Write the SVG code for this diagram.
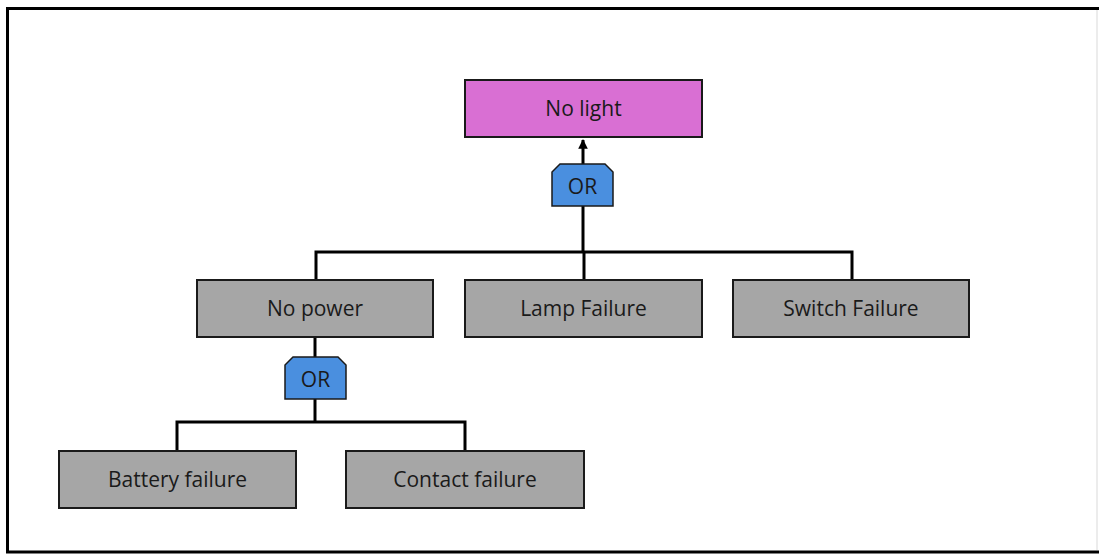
<svg xmlns="http://www.w3.org/2000/svg" width="1099" height="554" viewBox="0 0 1099 554">
  <style>
    .box { stroke: #1a1a1a; stroke-width: 2; }
    .evt { fill: #a6a6a6; }
    .top { fill: #d96fd3; }
    .gate { fill: #4a8fdf; stroke: #1a1a1a; stroke-width: 1.5; }
    .lbl { font-family: "Open Sans", "Liberation Sans", sans-serif; font-size: 21px; fill: #1a1a1a; text-anchor: middle; dominant-baseline: central; }
    .glbl { font-family: "Open Sans", "Liberation Sans", sans-serif; font-size: 21px; fill: #1a1a1a; text-anchor: middle; dominant-baseline: central; }
    .wire { fill: none; stroke: #000; stroke-width: 3; }
  </style>
  <defs>
    <marker id="arrow" viewBox="0 0 10 10" refX="9" refY="5" markerWidth="3.2" markerHeight="3.2" orient="auto">
      <path d="M0,0 L10,5 L0,10 z" fill="#000"/>
    </marker>
  </defs>
  <rect width="1099" height="554" fill="#ffffff"/>
  <g id="frame">
    <polyline points="1099,8.5 7.5,8.5 7.5,552 1099,552" fill="none" stroke="#000" stroke-width="3"/>
    <line x1="1097" y1="10" x2="1097" y2="550" stroke="#e6e6e6" stroke-width="1.5"/>
  </g>
  <g id="connectors">
    <line class="wire" x1="583" y1="164" x2="583" y2="140" marker-end="url(#arrow)"/>
    <polyline class="wire" points="583,206 583,252"/>
    <polyline class="wire" points="316,280 316,252 852,252 852,280"/>
    <line class="wire" x1="584" y1="252" x2="584" y2="280"/>
    <line class="wire" x1="315" y1="337" x2="315" y2="357"/>
    <line class="wire" x1="315" y1="399" x2="315" y2="422"/>
    <polyline class="wire" points="177,451 177,422 465,422 465,451"/>
  </g>
  <g id="no-light">
    <rect class="box top" x="465" y="80" width="237" height="57"/>
    <text class="lbl" x="583.5" y="108">No light</text>
  </g>
  <g id="or-gate-1">
    <path class="gate" d="M552,206 L552,172 L560,164 L605,164 L613,172 L613,206 Z"/>
    <text class="glbl" x="582.5" y="186">OR</text>
  </g>
  <g id="no-power">
    <rect class="box evt" x="197" y="280" width="236" height="57"/>
    <text class="lbl" x="315" y="308">No power</text>
  </g>
  <g id="lamp-failure">
    <rect class="box evt" x="465" y="280" width="237" height="57"/>
    <text class="lbl" x="583.5" y="308">Lamp Failure</text>
  </g>
  <g id="switch-failure">
    <rect class="box evt" x="733" y="280" width="236" height="57"/>
    <text class="lbl" x="851" y="308">Switch Failure</text>
  </g>
  <g id="or-gate-2">
    <path class="gate" d="M285,399 L285,365 L293,357 L338,357 L346,365 L346,399 Z"/>
    <text class="glbl" x="315.5" y="379">OR</text>
  </g>
  <g id="battery-failure">
    <rect class="box evt" x="59" y="451" width="237" height="57"/>
    <text class="lbl" x="177.5" y="479">Battery failure</text>
  </g>
  <g id="contact-failure">
    <rect class="box evt" x="346" y="451" width="238" height="57"/>
    <text class="lbl" x="465" y="479">Contact failure</text>
  </g>
</svg>
